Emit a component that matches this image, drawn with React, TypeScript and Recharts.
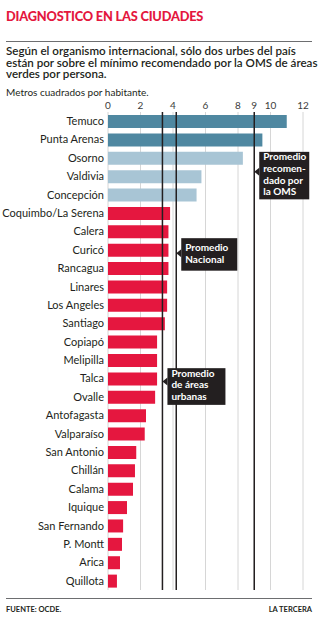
import React from 'react';
import {
  BarChart,
  Bar,
  Cell,
  XAxis,
  YAxis,
  CartesianGrid,
  ReferenceLine,
  ReferenceDot,
} from 'recharts';

// m2 de áreas verdes por habitante (OCDE)
const cities = [
  'Temuco', 'Punta Arenas', 'Osorno', 'Valdivia', 'Concepción',
  'Coquimbo/La Serena', 'Calera', 'Curicó', 'Rancagua', 'Linares',
  'Los Angeles', 'Santiago', 'Copiapó', 'Melipilla', 'Talca', 'Ovalle',
  'Antofagasta', 'Valparaíso', 'San Antonio', 'Chillán', 'Calama',
  'Iquique', 'San Fernando', 'P. Montt', 'Arica', 'Quillota',
];
const values = [
  11.0, 9.5, 8.3, 5.75, 5.45,
  3.82, 3.72, 3.72, 3.72, 3.64,
  3.64, 3.5, 3.02, 3.02, 3.02, 2.9,
  2.34, 2.26, 1.74, 1.66, 1.54,
  1.17, 0.93, 0.86, 0.74, 0.55,
];
const xTicks = [0, 2, 4, 6, 8, 9, 10, 12];

const PROMEDIO_URBANO = 3.35;
const PROMEDIO_NACIONAL = 4.2;
const MINIMO_OMS = 9;

const data = cities.map((city, i) => ({ city, value: values[i] }));

const ink = '#231f20';
const barColor = (v: number) =>
  v >= MINIMO_OMS ? '#4f88a1' : v >= PROMEDIO_NACIONAL ? '#a8c5d5' : '#e5173f';

// single-line city label (the default tick wraps long names)
const CityTick = ({ x, y, payload }: any) => (
  <text x={x} y={y} dy="0.35em" textAnchor="end" fontSize={11} fill={ink} fontFamily="Lato">
    {payload.value}
  </text>
);

interface CalloutProps {
  cx?: number;
  cy?: number;
  lines: string[];
  dy: number;
  top: number;
  h: number;
  w: number;
  first: number;
}

// black tag with a small arrow pointing at the reference line
const Callout = ({ cx = 0, cy = 0, lines, dy, top, h, w, first }: CalloutProps) => {
  const tx = cx;
  const ty = cy + dy;
  const bx = tx + 5;
  return (
    <g>
      <polygon points={`${bx},${ty - 4} ${tx},${ty} ${bx},${ty + 4}`} fill={ink} />
      <rect x={bx} y={ty + top} width={w} height={h} fill={ink} />
      {lines.map((l, i) => (
        <text
          key={i}
          x={bx + 4}
          y={ty + top + first + i * 11.6}
          dy="0.35em"
          fill="#fff"
          fontSize={10}
          fontWeight={700}
          fontFamily="Lato"
        >
          {l}
        </text>
      ))}
    </g>
  );
};

const Chart = () => (
  <BarChart
    layout="vertical"
    width={325}
    height={594}
    data={data}
    margin={{ top: 94, right: 22, left: 0, bottom: 4 }}
    barSize={13}
  >
    <CartesianGrid horizontal={false} stroke="#d6d6d6" />
    <XAxis
      type="number"
      orientation="top"
      domain={[0, 12]}
      ticks={xTicks}
      interval={0}
      axisLine={false}
      tickLine={false}
      tickSize={0}
      tickMargin={3}
      height={18}
      tick={{ fontSize: 10, fill: '#3c3c3c', fontFamily: 'Lato' }}
    />
    <YAxis
      type="category"
      dataKey="city"
      width={108}
      interval={0}
      axisLine={false}
      tickLine={false}
      tickSize={0}
      tickMargin={4}
      tick={<CityTick />}
    />
    <Bar dataKey="value" isAnimationActive={false}>
      {data.map((d, i) => (
        <Cell key={i} fill={barColor(d.value)} />
      ))}
    </Bar>
    <ReferenceLine x={PROMEDIO_URBANO} stroke={ink} strokeWidth={1.5} />
    <ReferenceLine x={PROMEDIO_NACIONAL} stroke={ink} strokeWidth={1.5} />
    <ReferenceLine x={MINIMO_OMS} stroke={ink} strokeWidth={1.5} />
    <ReferenceDot
      x={MINIMO_OMS}
      y="Valdivia"
      r={0}
      shape={(p: any) => (
        <Callout {...p} lines={['Promedio', 'recomen-', 'dado por', 'la OMS']} dy={-4.5} top={-20} h={47.5} w={50} first={5} />
      )}
    />
    <ReferenceDot
      x={PROMEDIO_NACIONAL}
      y="Curicó"
      r={0}
      shape={(p: any) => (
        <Callout {...p} lines={['Promedio', 'Nacional']} dy={3.3} top={-15} h={32.5} w={56} first={9.4} />
      )}
    />
    <ReferenceDot
      x={PROMEDIO_URBANO}
      y="Talca"
      r={0}
      shape={(p: any) => (
        <Callout {...p} lines={['Promedio', 'de áreas', 'urbanas']} dy={3} top={-13.4} h={36.7} w={58} first={5} />
      )}
    />
  </BarChart>
);

export default function App() {
  return (
    <div
      style={{
        position: 'absolute',
        left: 0,
        top: 0,
        width: 325,
        height: 621,
        background: '#fff',
        fontFamily: 'Lato',
        color: ink,
        overflow: 'hidden',
      }}
    >
      <div style={{ position: 'absolute', left: 6, top: 8, fontSize: 12.8, lineHeight: '16px', fontWeight: 900, color: '#e4173e', letterSpacing: -0.2 }}>
        DIAGNOSTICO EN LAS CIUDADES
      </div>
      <div style={{ position: 'absolute', left: 6, top: 41, width: 306, height: 1, background: '#6d6e70' }} />
      <div style={{ position: 'absolute', left: 6, top: 45, width: 312, fontSize: 11.6, lineHeight: '11.7px', fontWeight: 600 }}>
        Según el organismo internacional, sólo dos urbes del país<br />
        están por sobre el mínimo recomendado por la OMS de áreas<br />
        verdes por persona.
      </div>
      <div style={{ position: 'absolute', left: 6, top: 86, fontSize: 10, lineHeight: '12px' }}>
        Metros cuadrados por habitante.
      </div>
      <div style={{ position: 'absolute', left: 0, top: 0 }}>
        <Chart />
      </div>
      <div style={{ position: 'absolute', left: 6, top: 598, width: 306, height: 1, background: '#6d6e70' }} />
      <div style={{ position: 'absolute', left: 6, top: 606, fontSize: 7.5, lineHeight: '8px', fontWeight: 700 }}>
        FUENTE: OCDE.
      </div>
      <div style={{ position: 'absolute', right: 13, top: 606, fontSize: 7.5, lineHeight: '8px', fontWeight: 700 }}>
        LA TERCERA
      </div>
    </div>
  );
}
